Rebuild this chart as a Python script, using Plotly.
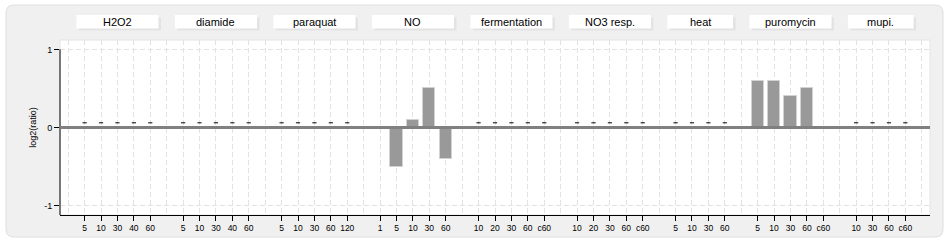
import plotly.graph_objects as go

# ---------------- data ----------------
groups = ["H2O2", "diamide", "paraquat", "NO", "fermentation",
          "NO3 resp.", "heat", "puromycin", "mupi."]

h2o2_labels = ["5", "10", "30", "40", "60"]
diamide_labels = ["5", "10", "30", "40", "60"]
paraquat_labels = ["5", "10", "30", "60", "120"]
no_labels = ["1", "5", "10", "30", "60"]
fermentation_labels = ["10", "20", "30", "60", "c60"]
no3_labels = ["10", "20", "30", "60", "c60"]
heat_labels = ["5", "10", "30", "60"]
puromycin_labels = ["5", "10", "30", "60", "c60"]
mupi_labels = ["10", "30", "60", "c60"]

# None = no measurement (drawn as "-")
h2o2_vals = [None, None, None, None, None]
diamide_vals = [None, None, None, None, None]
paraquat_vals = [None, None, None, None, None]
no_vals = [0.0, -0.5, 0.1, 0.5, -0.4]
fermentation_vals = [None, None, None, None, None]
no3_vals = [None, None, None, None, None]
heat_vals = [None, None, None, None]
puromycin_vals = [0.6, 0.6, 0.4, 0.5, 0.0]
mupi_vals = [None, None, None, None]

all_labels = [h2o2_labels, diamide_labels, paraquat_labels, no_labels,
              fermentation_labels, no3_labels, heat_labels,
              puromycin_labels, mupi_labels]
all_vals = [h2o2_vals, diamide_vals, paraquat_vals, no_vals,
            fermentation_vals, no3_vals, heat_vals, puromycin_vals, mupi_vals]

# ---------------- layout helpers ----------------
W, H = 950, 250
ML, MR, MT, MB = 60, 20, 40, 35
PW, PH = W - ML - MR, H - MT - MB


def px_x(px):
    return (px - ML) / PW


def px_y(py):
    return 1 - (py - MT) / PH


tick_x, tick_text = [], []
bar_x, bar_y = [], []
dash_x = []
group_spans = []
pos = 0
for labels, vals in zip(all_labels, all_vals):
    start = pos
    for lab, v in zip(labels, vals):
        tick_x.append(pos)
        tick_text.append(lab)
        if v is None:
            dash_x.append(pos)
        else:
            bar_x.append(pos)
            bar_y.append(v)
        pos += 1
    group_spans.append((start, pos - 1))
    pos += 1
last_slot = pos - 2

fig = go.Figure()

fig.add_trace(go.Bar(
    x=bar_x, y=bar_y, width=0.74,
    marker=dict(color="#999999", line=dict(color="#d2d2d2", width=1)),
    showlegend=False, hoverinfo="x+y"))

fig.add_trace(go.Scatter(
    x=dash_x, y=[0.06] * len(dash_x), mode="markers",
    marker=dict(symbol="line-ew", size=3, line=dict(color="black", width=1)),
    showlegend=False, hoverinfo="skip"))

shapes = []

# outer rounded panel
x0, x1 = px_x(6), px_x(943)
y0, y1 = px_y(237), px_y(5)
rx, ry = 8 / PW, 8 / PH
path = (f"M {x0+rx},{y1} L {x1-rx},{y1} Q {x1},{y1} {x1},{y1-ry} "
        f"L {x1},{y0+ry} Q {x1},{y0} {x1-rx},{y0} "
        f"L {x0+rx},{y0} Q {x0},{y0} {x0},{y0+ry} "
        f"L {x0},{y1-ry} Q {x0},{y1} {x0+rx},{y1} Z")
shapes.append(dict(type="path", path=path, xref="paper", yref="paper",
                   fillcolor="#f0f0f0", line=dict(color="#dedede", width=1),
                   layer="below"))
# white plot area
shapes.append(dict(type="rect", xref="paper", yref="paper", x0=0, x1=1, y0=0, y1=1,
                   fillcolor="white", line=dict(color="#e4e4e4", width=1),
                   layer="below"))
# y axis line from bottom up to y=1
shapes.append(dict(type="line", xref="paper", yref="y", x0=0, x1=0, y0=-1.12, y1=1,
                   line=dict(color="black", width=1), layer="above"))
# thick zero line drawn over the bars
shapes.append(dict(type="line", xref="paper", yref="y", x0=0, x1=1, y0=0, y1=0,
                   line=dict(color="#808080", width=3), layer="above"))

annotations = []
slot_px = PW / 53.0
for name, (s, e) in zip(groups, group_spans):
    bx0, bx1 = s - 0.5, e + 0.5
    by0, by1 = px_y(28.5), px_y(15)
    dxs = 2.5 / slot_px
    shapes.append(dict(type="rect", xref="x", yref="paper",
                       x0=bx0 + dxs, x1=bx1 + dxs, y0=px_y(30.5), y1=by1 - 2.5 / PH,
                       fillcolor="#e3e3e3", line=dict(width=0), layer="below"))
    shapes.append(dict(type="rect", xref="x", yref="paper",
                       x0=bx0, x1=bx1, y0=by0, y1=by1,
                       fillcolor="white", line=dict(width=0), layer="below"))
    annotations.append(dict(x=(s + e) / 2, y=px_y(22), xref="x", yref="paper",
                            text=name, showarrow=False,
                            font=dict(size=11, color="black"),
                            xanchor="center", yanchor="middle"))

fig.update_layout(
    width=W, height=H,
    margin=dict(l=ML, r=MR, t=MT, b=MB),
    paper_bgcolor="white", plot_bgcolor="rgba(0,0,0,0)",
    font=dict(family="Liberation Sans, Arial, sans-serif", color="black"),
    shapes=shapes, annotations=annotations,
    bargap=0, showlegend=False,
)

fig.update_xaxes(
    range=[-1.5, last_slot + 1.5],
    tickmode="array", tickvals=tick_x, ticktext=tick_text,
    tickfont=dict(size=8.5, color="black"),
    ticks="outside", ticklen=5, tickcolor="black", tickwidth=1,
    showline=True, linecolor="black", linewidth=1,
    showgrid=True, gridcolor="#e2e2e2", griddash="5px,3px", gridwidth=1,
    minor=dict(tick0=0, dtick=1, showgrid=True, gridcolor="#e2e2e2",
               griddash="5px,3px", ticks=""),
    zeroline=False, fixedrange=True,
)

fig.update_yaxes(
    range=[-1.12, 1.12],
    tickmode="array", tickvals=[-1, 0, 1], ticktext=["-1", "0", "1"],
    tickfont=dict(size=9, color="black"),
    ticks="outside", ticklen=5, tickcolor="black", tickwidth=1,
    showline=False,
    showgrid=True, gridcolor="#e2e2e2", griddash="5px,3px", gridwidth=1,
    zeroline=False,
    title=dict(text="log2(ratio)", font=dict(size=9, color="black"), standoff=6),
    fixedrange=True,
)

fig.write_html("out.html")
